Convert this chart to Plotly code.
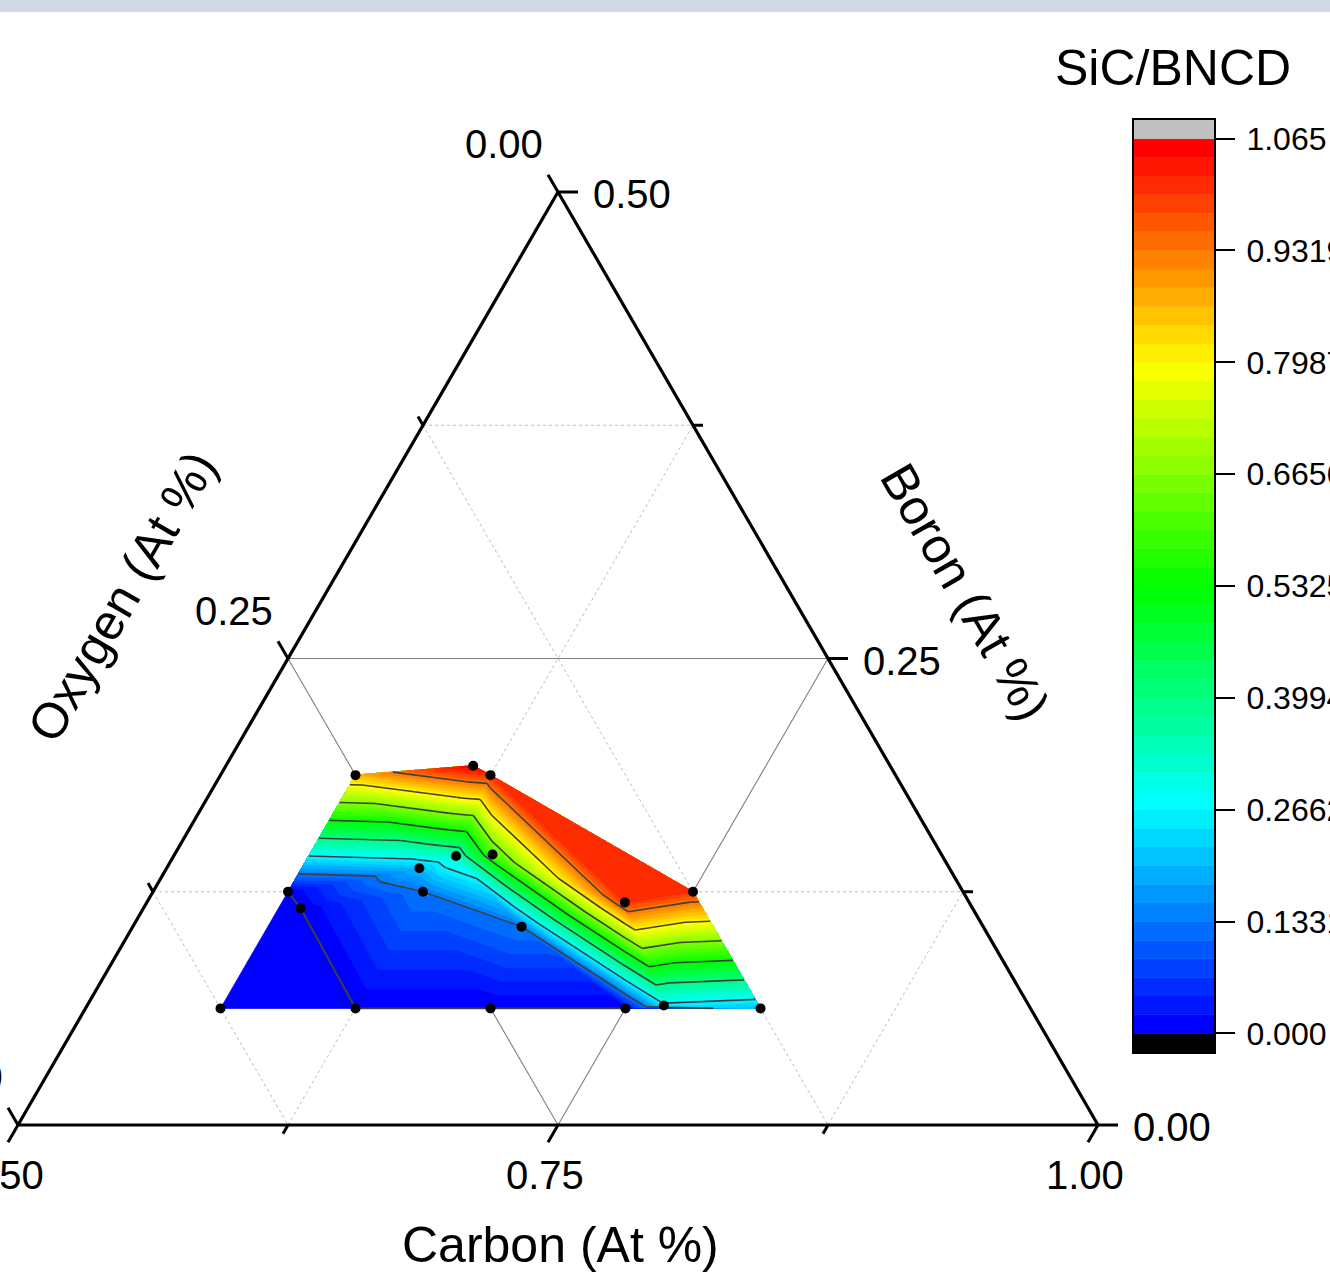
import numpy as np
import plotly.graph_objects as go

# ---------------- data ----------------
boron  = [0.1875, 0.1925, 0.1875, 0.1442, 0.1450, 0.1376, 0.1250, 0.1161, 0.1250,
          0.1193, 0.1250, 0.1063, 0.0625, 0.0625, 0.0625, 0.0625, 0.0640, 0.0625]
oxygen = [0.2500, 0.1930, 0.1875, 0.2251, 0.2078, 0.2454, 0.3125, 0.3111, 0.2500,
          0.1594, 0.1250, 0.2137, 0.3750, 0.3125, 0.2500, 0.1875, 0.1690, 0.1250]
carbon = [0.5625, 0.6145, 0.6250, 0.6307, 0.6472, 0.6170, 0.5625, 0.5728, 0.6250,
          0.7213, 0.7500, 0.6800, 0.5625, 0.6250, 0.6875, 0.7500, 0.7670, 0.8125]
sic_bncd = [0.870, 1.065, 1.000, 0.330, 0.600, 0.200, 0.000, 0.000, 0.133,
            1.000, 1.000, 0.133, 0.010, 0.000, 0.000, 0.000, 0.250, 0.205]

z_min, z_max = 0.0, 1.065
n_bands = 48
scale_labels = ["0.000", "0.1331", "0.2662", "0.3994", "0.5325",
                "0.6656", "0.7987", "0.9319", "1.065"]
major_ticks = [0.0, 0.25, 0.5]          # Boron / Oxygen
minor_ticks = [0.125, 0.375]
carbon_major = [0.5, 0.75, 1.0]
carbon_minor = [0.625, 0.875]

# ---------------- geometry helpers ----------------
W, H = 1330, 1288
PX0, PY0, PW, PH = 18.0, 1125.0, 1080.0, 933.0   # triangle base-left corner and size in px


def txy(b, c):
    bb = np.asarray(b, float) / 0.5
    cc = (np.asarray(c, float) - 0.5) / 0.5
    return cc + 0.5 * bb, bb


def px2d(dx, dy):
    """pixel offset (x right, y down) -> data offset"""
    return dx / PW, -dy / PH


FONT = "Arial, 'Liberation Sans', sans-serif"

# ---------------- band colours ----------------
def cmap(t):
    stops = [(0.0, (0, 0, 255)), (0.25, (0, 255, 255)), (0.5, (0, 255, 0)),
             (0.75, (255, 255, 0)), (1.0, (255, 0, 0))]
    for k in range(len(stops) - 1):
        t0, c0 = stops[k]
        t1, c1 = stops[k + 1]
        if t <= t1 + 1e-12:
            f = (t - t0) / (t1 - t0)
            return "rgb(%d,%d,%d)" % tuple(round(c0[j] + f * (c1[j] - c0[j])) for j in range(3))
    return "rgb(255,0,0)"


dz = (z_max - z_min) / n_bands
band_lo = [z_min + i * dz for i in range(n_bands)]
band_col = [cmap(i / (n_bands - 1)) for i in range(n_bands)]
line_levels = [z_min + k * (z_max - z_min) / 8 for k in range(8)]
tick_levels = [z_min + k * (z_max - z_min) / 8 for k in range(9)]

# ---------------- triangulation (Bowyer-Watson) ----------------
X, Y = txy(boron, carbon)
Z = np.asarray(sic_bncd, float)
P = np.column_stack([X, Y * np.sqrt(3) / 2])


def delaunay(pts):
    n = len(pts)
    mn, mx = pts.min(0), pts.max(0)
    d = (mx - mn).max() * 200
    c = (mn + mx) / 2
    Q = np.vstack([pts, [[c[0] - d, c[1] - d], [c[0] + d, c[1] - d], [c[0], c[1] + d]]])
    tris = [(n, n + 1, n + 2)]

    def circ(t):
        (ax, ay), (bx, by), (cx, cy) = Q[t[0]], Q[t[1]], Q[t[2]]
        dd = 2 * (ax * (by - cy) + bx * (cy - ay) + cx * (ay - by))
        if abs(dd) < 1e-15:
            return 0.0, 0.0, np.inf
        ux = ((ax * ax + ay * ay) * (by - cy) + (bx * bx + by * by) * (cy - ay) + (cx * cx + cy * cy) * (ay - by)) / dd
        uy = ((ax * ax + ay * ay) * (cx - bx) + (bx * bx + by * by) * (ax - cx) + (cx * cx + cy * cy) * (bx - ax)) / dd
        return ux, uy, (ax - ux) ** 2 + (ay - uy) ** 2

    for i in range(n):
        p = Q[i]
        bad = []
        for t in tris:
            ux, uy, r2 = circ(t)
            if (p[0] - ux) ** 2 + (p[1] - uy) ** 2 < r2:
                bad.append(t)
        cnt = {}
        for t in bad:
            for e in ((t[0], t[1]), (t[1], t[2]), (t[2], t[0])):
                k = tuple(sorted(e))
                cnt[k] = cnt.get(k, 0) + 1
        tris = [t for t in tris if t not in bad]
        for e, m in cnt.items():
            if m == 1:
                tris.append((e[0], e[1], i))
    return [t for t in tris if max(t) < n]


tris = delaunay(P)


def clip(poly, lvl, above):
    out = []
    m = len(poly)
    for k in range(m):
        a, b = poly[k], poly[(k + 1) % m]
        fa = a[2] - lvl if above else lvl - a[2]
        fb = b[2] - lvl if above else lvl - b[2]
        if fa >= 0:
            out.append(a)
        if (fa >= 0) != (fb >= 0):
            t = fa / (fa - fb)
            out.append(tuple(a[j] + t * (b[j] - a[j]) for j in range(3)))
    return out


fig = go.Figure()

# ---------------- grid lines ----------------
def grid_segments(vals, kind):
    xs, ys = [], []
    for v in vals:
        if kind == "B":
            p0, p1 = txy(v, 0.5), txy(v, 1 - v)
        elif kind == "O":
            p0, p1 = txy(0.5 - v, 0.5), txy(0.0, 1 - v)
        else:
            p0, p1 = txy(0.0, v), txy(1 - v, v)
        xs += [float(p0[0]), float(p1[0]), None]
        ys += [float(p0[1]), float(p1[1]), None]
    return xs, ys


gx, gy = [], []
for kind, vals in (("B", minor_ticks), ("O", minor_ticks), ("C", carbon_minor)):
    a, b = grid_segments(vals, kind)
    gx += a
    gy += b
fig.add_trace(go.Scatter(x=gx, y=gy, mode="lines", line=dict(color="#bcbcbc", width=1, dash="3px,3px"),
                         hoverinfo="skip", showlegend=False))
gx, gy = [], []
for kind, vals in (("B", [0.25]), ("O", [0.25]), ("C", [0.75])):
    a, b = grid_segments(vals, kind)
    gx += a
    gy += b
fig.add_trace(go.Scatter(x=gx, y=gy, mode="lines", line=dict(color="#808080", width=1.1),
                         hoverinfo="skip", showlegend=False))

# ---------------- filled contour bands ----------------
for i in range(n_bands):
    xs, ys = [], []
    for t in tris:
        poly = [(X[k], Y[k], Z[k]) for k in t]
        if i > 0:
            poly = clip(poly, band_lo[i], True)
        if len(poly) < 3:
            continue
        for q in poly:
            xs.append(q[0])
            ys.append(q[1])
        xs += [poly[0][0], None]
        ys += [poly[0][1], None]
    if xs:
        fig.add_trace(go.Scatter(x=xs, y=ys, mode="lines", fill="toself", fillcolor=band_col[i],
                                 line=dict(color=band_col[i], width=0.8),
                                 hoverinfo="skip", showlegend=False))

# ---------------- contour lines ----------------
lx, ly = [], []
for L in line_levels:
    for t in tris:
        pts = []
        s = [Z[k] - L for k in t]
        for a, b in ((0, 1), (1, 2), (2, 0)):
            ka, kb = t[a], t[b]
            if s[a] == 0:
                pts.append((X[ka], Y[ka]))
            if s[a] * s[b] < 0:
                f = s[a] / (s[a] - s[b])
                pts.append((X[ka] + f * (X[kb] - X[ka]), Y[ka] + f * (Y[kb] - Y[ka])))
        uniq = []
        for q in pts:
            if all(abs(q[0] - u[0]) > 1e-12 or abs(q[1] - u[1]) > 1e-12 for u in uniq):
                uniq.append(q)
        if len(uniq) == 2:
            lx += [uniq[0][0], uniq[1][0], None]
            ly += [uniq[0][1], uniq[1][1], None]
fig.add_trace(go.Scatter(x=lx, y=ly, mode="lines", line=dict(color="#404040", width=1.6),
                         hoverinfo="skip", showlegend=False))

# ---------------- triangle frame and ticks ----------------
corners = [txy(0.5, 0.5), txy(0.0, 0.5), txy(0.0, 1.0), txy(0.5, 0.5)]
fig.add_trace(go.Scatter(x=[float(c[0]) for c in corners], y=[float(c[1]) for c in corners],
                         mode="lines", line=dict(color="black", width=3.2),
                         hoverinfo="skip", showlegend=False))

def tick_set(vals, length):
    xs, ys = [], []
    s3 = np.sqrt(3) / 2
    for v in vals:   # Boron: to the right
        x0, y0 = txy(v, 1 - v)
        dx, dy = px2d(length, 0)
        xs += [float(x0), float(x0) + dx, None]
        ys += [float(y0), float(y0) + dy, None]
    for v in vals:   # Oxygen: up-left
        x0, y0 = txy(0.5 - v, 0.5)
        dx, dy = px2d(-0.5 * length, -s3 * length)
        xs += [float(x0), float(x0) + dx, None]
        ys += [float(y0), float(y0) + dy, None]
    return xs, ys

def carbon_ticks(vals, length):
    xs, ys = [], []
    s3 = np.sqrt(3) / 2
    for v in vals:
        x0, y0 = txy(0.0, v)
        dx, dy = px2d(-0.5 * length, s3 * length)
        xs += [float(x0), float(x0) + dx, None]
        ys += [float(y0), float(y0) + dy, None]
    return xs, ys

ax_, ay_ = tick_set(major_ticks, 20)
bx_, by_ = carbon_ticks(carbon_major, 20)
fig.add_trace(go.Scatter(x=ax_ + bx_, y=ay_ + by_, mode="lines", line=dict(color="black", width=3),
                         hoverinfo="skip", showlegend=False))
ax_, ay_ = tick_set(minor_ticks, 10)
bx_, by_ = carbon_ticks(carbon_minor, 10)
fig.add_trace(go.Scatter(x=ax_ + bx_, y=ay_ + by_, mode="lines", line=dict(color="black", width=3),
                         hoverinfo="skip", showlegend=False))

# ---------------- data points ----------------
fig.add_trace(go.Scatter(x=X, y=Y, mode="markers", marker=dict(color="black", size=10),
                         hoverinfo="skip", showlegend=False))

# ---------------- colour scale (bars on second axes) ----------------
cb_base = [z_min - dz] + band_lo + [z_max]
cb_cols = ["black"] + band_col + ["#c0c0c0"]
fig.add_trace(go.Bar(x=[0] * len(cb_base), y=[dz] * len(cb_base), base=cb_base, width=1,
                     marker=dict(color=cb_cols, line=dict(color=cb_cols, width=0.5)),
                     xaxis="x2", yaxis="y2", hoverinfo="skip", showlegend=False))

# ---------------- tick labels ----------------
ann = []
tick_font = dict(family=FONT, size=40, color="black")
for v in major_ticks:
    x0, y0 = txy(0.5 - v, 0.5)
    ann.append(dict(x=float(x0), y=float(y0), text="%.2f" % v, showarrow=False, font=tick_font,
                    xanchor="center", yanchor="middle", xshift=-54, yshift=48))
    x0, y0 = txy(v, 1 - v)
    ann.append(dict(x=float(x0), y=float(y0), text="%.2f" % v, showarrow=False, font=tick_font,
                    xanchor="left", yanchor="middle", xshift=33, yshift=-2))
for v in carbon_major:
    x0, y0 = txy(0.0, v)
    ann.append(dict(x=float(x0), y=float(y0), text="%.2f" % v, showarrow=False, font=tick_font,
                    xanchor="center", yanchor="middle", xshift=-13, yshift=-50))

title_font = dict(family=FONT, size=50, color="black")
ann.append(dict(xref="paper", yref="paper", x=560 / W, y=1 - 1245 / H, text="Carbon (At %)",
                showarrow=False, font=title_font, xanchor="center", yanchor="middle"))
ann.append(dict(xref="paper", yref="paper", x=122 / W, y=1 - 597 / H, text="Oxygen (At %)",
                showarrow=False, font=title_font, xanchor="center", yanchor="middle", textangle=-60))
ann.append(dict(xref="paper", yref="paper", x=965 / W, y=1 - 592 / H, text="Boron (At %)",
                showarrow=False, font=title_font, xanchor="center", yanchor="middle", textangle=60))
ann.append(dict(xref="paper", yref="paper", x=1173 / W, y=1 - 68 / H, text="SiC/BNCD",
                showarrow=False, font=title_font, xanchor="center", yanchor="middle"))

fig.update_layout(
    width=W, height=H, margin=dict(l=0, r=0, t=0, b=0, pad=0, autoexpand=False),
    autosize=False,
    paper_bgcolor="white", plot_bgcolor="white",
    xaxis=dict(range=[-PX0 / PW, (W - PX0) / PW], visible=False, domain=[0, 1], fixedrange=True,
               automargin=False),
    yaxis=dict(range=[(PY0 - H) / PH, PY0 / PH], visible=False, domain=[0, 1], fixedrange=True,
               automargin=False),
    xaxis2=dict(domain=[1134 / W, 1214 / W], range=[-0.5, 0.5], anchor="y2",
                showline=True, linecolor="black", linewidth=2, mirror=True, automargin=False,
                showticklabels=False, ticks="", showgrid=False, zeroline=False, fixedrange=True),
    yaxis2=dict(domain=[1 - 1052 / H, 1 - 120 / H], range=[z_min - dz, z_max + dz], anchor="x2",
                side="right", showline=True, linecolor="black", linewidth=2, mirror=True,
                automargin=False, fixedrange=True,
                tickvals=tick_levels, ticktext=scale_labels, ticks="outside", ticklen=19,
                tickwidth=2, tickcolor="black", ticklabelstandoff=5,
                tickfont=dict(family=FONT, size=32, color="black"), showgrid=False, zeroline=False),
    barmode="overlay",
    annotations=ann,
    shapes=[dict(type="rect", xref="paper", yref="paper", x0=0, x1=1, y0=1 - 12 / H, y1=1,
                 fillcolor="#d2d9e5", line=dict(width=0), layer="above")],
)

fig.write_html("out.html", config={"responsive": False, "displayModeBar": False})
